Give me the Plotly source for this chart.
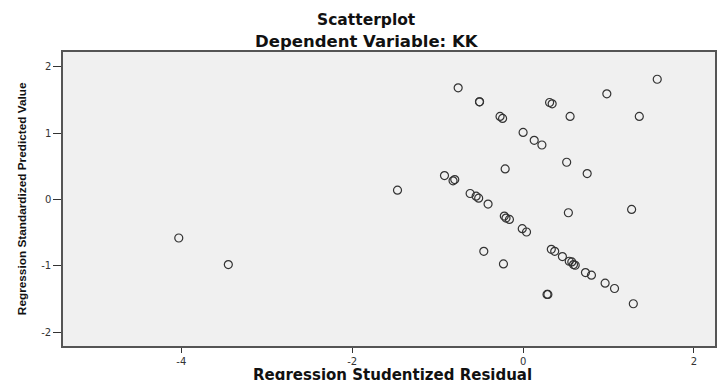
import plotly.graph_objects as go

# Regression Studentized Residual (x) and Regression Standardized Predicted Value (y)
resid = [-4.03, -3.45, -1.47,
         -0.76, -0.51, -0.51, 0.31, 0.34, 0.98, 1.57,
         -0.27, -0.24, 0.55, 1.36,
         0.00, 0.13, 0.22, 0.51, 0.75, -0.21,
         -0.92, -0.82, -0.80, -0.62, -0.55, -0.52, -0.41,
         1.27, 0.53, -0.22, -0.20, -0.16, -0.01, 0.04,
         -0.46, -0.23, 0.33, 0.37, 0.46,
         0.54, 0.57, 0.59, 0.61, 0.73, 0.80, 0.96, 1.07,
         0.28, 0.29, 1.29]
pred = [-0.58, -0.98, 0.14,
        1.68, 1.47, 1.47, 1.46, 1.44, 1.59, 1.81,
        1.25, 1.22, 1.25, 1.25,
        1.01, 0.89, 0.82, 0.56, 0.39, 0.46,
        0.36, 0.28, 0.30, 0.09, 0.05, 0.02, -0.07,
        -0.15, -0.20, -0.25, -0.28, -0.30, -0.44, -0.49,
        -0.78, -0.97, -0.75, -0.78, -0.86,
        -0.93, -0.94, -0.98, -0.99, -1.10, -1.14, -1.26, -1.34,
        -1.43, -1.43, -1.57]

x_ticks = [-4, -2, 0, 2]
y_ticks = [-2, -1, 0, 1, 2]

title_text = "Scatterplot"
subtitle_text = "Dependent Variable: KK"
x_title = "Regression Studentized Residual"
y_title = "Regression Standardized Predicted Value"

fig = go.Figure()
fig.add_trace(go.Scatter(
    x=resid, y=pred, mode="markers",
    marker=dict(symbol="circle-open", size=8, color="#333333", line=dict(width=1.2)),
    showlegend=False, hoverinfo="x+y",
))

W, H = 718, 380
ml, mr, mt, mb = 63, 1, 52, 34
ph = H - mt - mb
pw = W - ml - mr

def py(pix):
    return (H - mb - pix) / ph

def px(pix):
    return (pix - ml) / pw

wide = "DejaVu Sans, Verdana, sans-serif"
tickfont = dict(size=10, color="#333", family=wide)

fig.update_layout(
    width=W, height=H,
    margin=dict(l=ml, r=mr, t=mt, b=mb, pad=0),
    paper_bgcolor="white",
    plot_bgcolor="#f0f0f0",
    font=dict(family="Liberation Sans, Arial, sans-serif", color="#222"),
    xaxis=dict(range=[-5.385, 2.246], tickvals=x_ticks, ticktext=[str(v) for v in x_ticks],
               showgrid=False, zeroline=False, ticks="outside", ticklen=5, tickwidth=1.2,
               tickcolor="#333", tickfont=tickfont,
               showline=True, linecolor="#555", linewidth=1.5, mirror=True),
    yaxis=dict(range=[-2.206, 2.22], tickvals=y_ticks, ticktext=[str(v) for v in y_ticks],
               showgrid=False, zeroline=False, ticks="outside", ticklen=8, tickwidth=1.2,
               tickcolor="#333", tickfont=tickfont,
               showline=True, linecolor="#555", linewidth=1.5, mirror=True),
    annotations=[
        dict(text="<b>%s</b>" % title_text, xref="paper", yref="paper",
             x=px(367), y=py(19.5), showarrow=False,
             font=dict(size=15.5, color="#111", family=wide), xanchor="center", yanchor="middle"),
        dict(text="<b>%s</b>" % subtitle_text, xref="paper", yref="paper",
             x=px(368), y=py(41), showarrow=False,
             font=dict(size=16.5, color="#111", family=wide), xanchor="center", yanchor="middle"),
        dict(text="<b>%s</b>" % x_title, xref="paper", yref="paper",
             x=px(394), y=py(375), showarrow=False,
             font=dict(size=15, color="#111", family=wide), xanchor="center", yanchor="middle"),
        dict(text="<b>%s</b>" % y_title, xref="paper", yref="paper",
             x=px(22), y=py(199), showarrow=False, textangle=-90,
             font=dict(size=11.8, color="#111", family="Liberation Sans, Arial, sans-serif"),
             xanchor="center", yanchor="middle"),
    ],
)

fig.write_html("out.html", config={"displayModeBar": False},
               post_script="document.body.style.margin='0';document.body.style.overflow='hidden';")
